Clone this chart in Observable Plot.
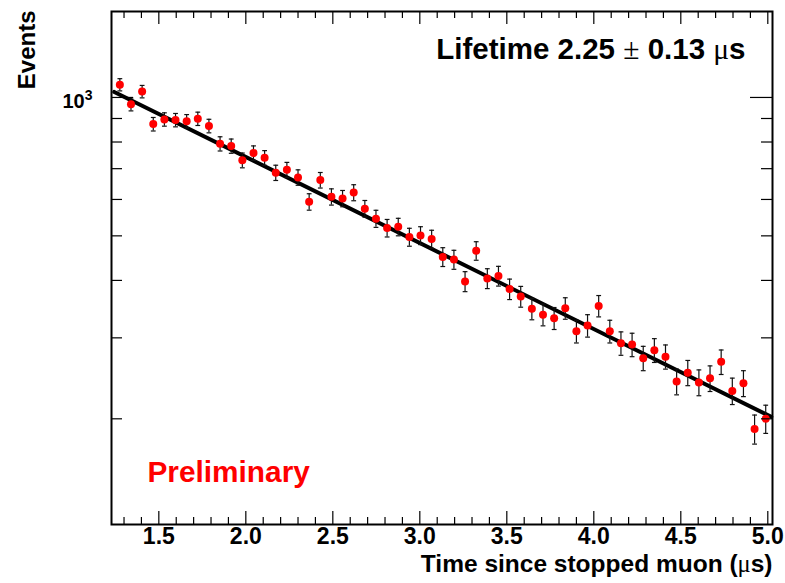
<!DOCTYPE html>
<html>
<head>
<meta charset="utf-8">
<script src="https://cdn.jsdelivr.net/npm/d3@7"></script>
<script src="https://cdn.jsdelivr.net/npm/@observablehq/plot@0.6"></script>
<style>
  html, body { margin: 0; padding: 0; background: white; }
</style>
</head>
<body>
<div id="chart"></div>
<script>
// ---- data ----
const times = [1.276, 1.340, 1.404, 1.468, 1.532, 1.596, 1.660, 1.724, 1.788, 1.852,
  1.916, 1.980, 2.044, 2.108, 2.172, 2.236, 2.300, 2.364, 2.428, 2.492,
  2.556, 2.620, 2.684, 2.748, 2.812, 2.876, 2.940, 3.004, 3.068, 3.132,
  3.196, 3.260, 3.324, 3.388, 3.452, 3.516, 3.580, 3.644, 3.708, 3.772,
  3.836, 3.900, 3.964, 4.028, 4.092, 4.156, 4.220, 4.284, 4.348, 4.412,
  4.476, 4.540, 4.604, 4.668, 4.732, 4.796, 4.860, 4.924, 4.988];
const counts = [1066, 966, 1030, 875, 896, 893, 888, 899, 867, 793,
  784, 730, 757, 739, 686, 696, 670, 593, 661, 608,
  603, 621, 573, 545, 520, 523, 497, 501, 492, 450,
  444, 398, 464, 404, 409, 383, 369, 347, 337, 331,
  348, 310, 319, 352, 310, 292, 290, 271, 282, 273,
  241, 252, 240, 245, 266, 230, 239, 190, 200];
const errors = [32.6, 31.1, 32.1, 29.6, 29.9, 29.9, 29.8, 30.0, 29.4, 28.2,
  28.0, 27.0, 27.5, 27.2, 26.2, 26.4, 25.9, 24.4, 25.7, 24.7,
  24.6, 24.9, 23.9, 23.3, 22.8, 22.9, 22.3, 22.4, 22.2, 21.2,
  21.1, 19.9, 21.5, 20.1, 20.2, 19.6, 19.2, 18.6, 18.4, 18.2,
  18.7, 17.6, 17.9, 18.8, 17.6, 17.1, 17.0, 16.5, 16.8, 16.5,
  15.5, 15.9, 15.5, 15.7, 16.3, 15.2, 15.5, 13.8, 14.1];
const fitTimes = [1.244, 5.02];
const fitCounts = [1028, 202];

const xMajorTicks = [1.5, 2.0, 2.5, 3.0, 3.5, 4.0, 4.5, 5.0];
const xTickLabels = ["1.5", "2.0", "2.5", "3.0", "3.5", "4.0", "4.5", "5.0"];
const xMinorTicks = [1.3, 1.4, 1.6, 1.7, 1.8, 1.9, 2.1, 2.2, 2.3, 2.4, 2.6, 2.7, 2.8, 2.9,
  3.1, 3.2, 3.3, 3.4, 3.6, 3.7, 3.8, 3.9, 4.1, 4.2, 4.3, 4.4, 4.6, 4.7, 4.8, 4.9];
const yMajorTicks = [1000];
const yTickLabels = ["10³"];
const yMinorTicks = [200, 300, 400, 500, 600, 700, 800, 900];

const titleText = "Lifetime 2.25 ± 0.13 μs";
const xTitle = "Time since stopped muon (μs)";
const yTitle = "Events";
const stampText = "Preliminary";

// ---- build ----
const points = times.map((t, i) => ({t, n: counts[i], e: errors[i]}));
const fit = fitTimes.map((t, i) => ({t, n: fitCounts[i]}));
const xLabels = xMajorTicks.map((v, i) => ({v, label: xTickLabels[i]}));
const yLabels = yMajorTicks.map((v, i) => ({v, label: yTickLabels[i]}));

const W = 785, H = 583;
const mL = 111, mR = 13, mT = 11, mB = 59;
const innerW = W - mL - mR, innerH = H - mT - mB;

const cap = {
  draw(ctx, size) {
    const r = Math.sqrt(size / Math.PI);
    ctx.moveTo(-r, 0);
    ctx.lineTo(r, 0);
  }
};

const font = "'Liberation Sans', Arial, Helvetica, sans-serif";
const txt = {fontWeight: "bold", fill: "black", lineAnchor: "middle"};

const chart = Plot.plot({
  width: W,
  height: H,
  marginLeft: mL,
  marginRight: mR,
  marginTop: mT,
  marginBottom: mB,
  style: {fontFamily: font, background: "white", color: "black"},
  x: {domain: [1.228, 5.027], axis: null},
  y: {type: "log", domain: [117.8, 1538], axis: null},
  marks: [
    // fit line
    Plot.line(fit, {x: "t", y: "n", stroke: "black", strokeWidth: 4}),
    // error bars
    Plot.ruleX(points, {x: "t", y1: d => d.n - d.e, y2: d => d.n + d.e, stroke: "#111", strokeWidth: 1.2}),
    Plot.dot(points, {x: "t", y: d => d.n + d.e, symbol: cap, r: 2.4, stroke: "#111", strokeWidth: 1.2, fill: "none"}),
    Plot.dot(points, {x: "t", y: d => d.n - d.e, symbol: cap, r: 2.4, stroke: "#111", strokeWidth: 1.2, fill: "none"}),
    // data points
    Plot.dot(points, {x: "t", y: "n", r: 4, fill: "#ff0000", stroke: "none"}),
    // inward ticks, bottom and top
    Plot.tickX(xMajorTicks, {x: d => d, insetTop: innerH - 13, stroke: "black", strokeWidth: 1.2}),
    Plot.tickX(xMinorTicks, {x: d => d, insetTop: innerH - 7, stroke: "black", strokeWidth: 1.2}),
    Plot.tickX(xMajorTicks, {x: d => d, insetBottom: innerH - 13, stroke: "black", strokeWidth: 1.2}),
    Plot.tickX(xMinorTicks, {x: d => d, insetBottom: innerH - 7, stroke: "black", strokeWidth: 1.2}),
    // inward ticks, left and right
    Plot.tickY(yMajorTicks, {y: d => d, insetRight: innerW - 22, stroke: "black", strokeWidth: 1.2}),
    Plot.tickY(yMinorTicks, {y: d => d, insetRight: innerW - 11, stroke: "black", strokeWidth: 1.2}),
    Plot.tickY(yMajorTicks, {y: d => d, insetLeft: innerW - 22, stroke: "black", strokeWidth: 1.2}),
    Plot.tickY(yMinorTicks, {y: d => d, insetLeft: innerW - 11, stroke: "black", strokeWidth: 1.2}),
    Plot.frame({stroke: "black", strokeWidth: 2}),
    // tick labels
    Plot.text(xLabels, {...txt, x: "v", text: "label", frameAnchor: "bottom", lineAnchor: "top", dy: 3, fontSize: 23}),
    Plot.text(yLabels, {...txt, y: "v", text: "label", frameAnchor: "left", textAnchor: "end", dx: -19, dy: 4, fontSize: 20}),
    // axis titles
    Plot.text([xTitle], {...txt, frameAnchor: "bottom-right", textAnchor: "end", dy: 40, fontSize: 24.5}),
    Plot.text([yTitle], {...txt, frameAnchor: "top-left", rotate: -90, textAnchor: "end", dx: -84, dy: -1, fontSize: 24}),
    // annotations
    Plot.text([titleText], {...txt, frameAnchor: "top-right", textAnchor: "end", dx: -27, dy: 38, fontSize: 29.5}),
    Plot.text([stampText], {...txt, frameAnchor: "bottom-left", textAnchor: "start", dx: 36, dy: -52,
      fontSize: 29.8, fill: "#ff0000"})
  ]
});

// light symbol-style ± and μ, and a real superscript exponent, as in the original
const NS = "http://www.w3.org/2000/svg";
chart.querySelectorAll("text").forEach(el => {
  const s = el.textContent;
  if (!/[±μ³]/.test(s)) return;
  while (el.firstChild) el.removeChild(el.firstChild);
  for (const p of s.split(/([±μ³])/)) {
    if (!p) continue;
    const ts = document.createElementNS(NS, "tspan");
    if (p === "³") {
      ts.textContent = "3";
      ts.setAttribute("font-size", "0.7em");
      ts.setAttribute("dy", "-0.55em");
    } else {
      ts.textContent = p;
      if (p === "±" || p === "μ") {
        ts.setAttribute("font-weight", "normal");
        ts.setAttribute("font-family", "'Liberation Serif', 'DejaVu Serif', serif");
      }
    }
    el.appendChild(ts);
  }
});

document.getElementById("chart").appendChild(chart);
</script>
</body>
</html>
